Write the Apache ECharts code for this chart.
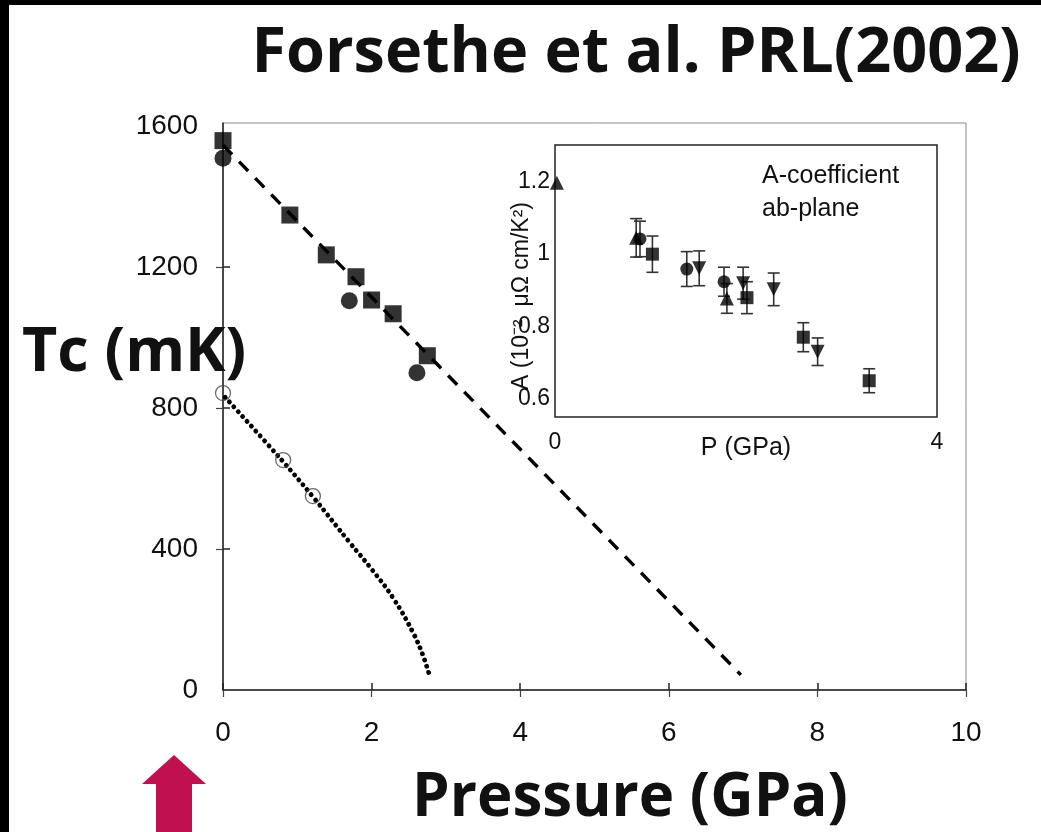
<!DOCTYPE html>
<html>
<head>
<meta charset="utf-8">
<script src="https://cdn.jsdelivr.net/npm/echarts@6/dist/echarts.min.js"></script>
<style>
html,body{margin:0;padding:0;background:#fff;}
#chart{width:1041px;height:832px;}
</style>
</head>
<body>
<div id="chart"></div>
<script>
// ---------- Main panel data: Tc (mK) vs Pressure (GPa) ----------
const mainXTicks = [0, 2, 4, 6, 8, 10];
const mainYTicks = [0, 400, 800, 1200, 1600];
const squaresP  = [0, 0.90, 1.39, 1.79, 2.00, 2.29, 2.75];
const squaresTc = [1558, 1347, 1234, 1172, 1106, 1067, 948];
const circlesP  = [0, 1.70, 2.61];
const circlesTc = [1508, 1104, 900];
const openP     = [0, 0.81, 1.21];
const openTc    = [842, 652, 550];
const dashP     = [0, 6.97];
const dashTc    = [1545, 43];
const dotP      = [0.03, 0.79, 1.21, 1.71, 2.01, 2.29, 2.56, 2.69, 2.77];
const dotTc     = [830, 652, 548, 417, 340, 261, 162, 99, 48];

// ---------- Inset data: A-coefficient vs P (GPa) ----------
const insetXTicks = [0, 4];
const insetYTicks = [0.6, 0.8, 1, 1.2];
const upP   = [0.02, 0.85, 1.80];
const upA   = [1.196, 1.044, 0.877];
const upErr = [0, 0.053, 0.041];
const ciP   = [0.89, 1.38, 1.77];
const ciA   = [1.041, 0.958, 0.923];
const ciErr = [0.049, 0.048, 0.040];
const dnP   = [1.51, 1.97, 2.29, 2.75];
const dnA   = [0.960, 0.919, 0.902, 0.730];
const dnErr = [0.048, 0.044, 0.045, 0.038];
const sqP   = [1.02, 2.01, 2.60, 3.29];
const sqA   = [0.999, 0.879, 0.770, 0.650];
const sqErr = [0.050, 0.044, 0.040, 0.033];

const zip = (a, b) => a.map((v, i) => [v, b[i]]);
const zip3 = (a, b, c) => a.map((v, i) => [v, b[i], c[i]]);
const errData = [].concat(zip3(upP, upA, upErr), zip3(ciP, ciA, ciErr), zip3(dnP, dnA, dnErr), zip3(sqP, sqA, sqErr)).filter(d => d[2] > 0);

const tickFont = 'Liberation Sans, Arial, sans-serif';
const bigFont = '"Open Sans", "Noto Sans", sans-serif';
const plain = v => String(v);

const chart = echarts.init(document.getElementById('chart'), null, {renderer: 'canvas'});

const option = {
  backgroundColor: '#ffffff',
  animation: false,
  grid: [
    {left: 223, top: 123, width: 743, height: 567, show: true, borderColor: '#8a8a8a', borderWidth: 1, backgroundColor: 'transparent'},
    {left: 555, top: 145, width: 382, height: 272, show: true, borderColor: '#222', borderWidth: 1.5, backgroundColor: '#fff', z: 5}
  ],
  xAxis: [
    {gridIndex: 0, type: 'value', min: 0, max: 10, position: 'bottom',
     axisLine: {show: true, onZero: false, lineStyle: {color: '#222', width: 1.5}},
     axisTick: {show: true, inside: true, length: 7, customValues: mainXTicks, lineStyle: {color: '#222', width: 1.5}},
     axisLabel: {show: true, customValues: mainXTicks, formatter: plain, margin: 29, fontFamily: tickFont, fontSize: 28, color: '#111'},
     splitLine: {show: false}},
    {gridIndex: 0, type: 'value', min: 0, max: 10, position: 'top',
     axisLine: {show: false},
     axisTick: {show: true, inside: true, length: 7, customValues: mainXTicks, lineStyle: {color: '#444', width: 1.2}},
     axisLabel: {show: false}, splitLine: {show: false}},
    {gridIndex: 1, type: 'value', min: 0, max: 4, position: 'bottom',
     axisLine: {show: false},
     axisTick: {show: false},
     axisLabel: {show: true, customValues: insetXTicks, formatter: plain, margin: 14, fontFamily: tickFont, fontSize: 23, color: '#111'},
     name: 'P (GPa)', nameLocation: 'middle', nameGap: 19, nameMoveOverlap: false,
     nameTextStyle: {fontFamily: tickFont, fontSize: 25, color: '#111'},
     splitLine: {show: false}}
  ],
  yAxis: [
    {gridIndex: 0, type: 'value', min: 0, max: 1608, position: 'left',
     axisLine: {show: true, onZero: false, lineStyle: {color: '#222', width: 1.5}},
     axisTick: {show: true, inside: true, length: 7, customValues: mainYTicks.slice(1, 4), lineStyle: {color: '#222', width: 1.5}},
     axisLabel: {show: true, customValues: mainYTicks, formatter: plain, margin: 25, fontFamily: tickFont, fontSize: 28, color: '#111'},
     splitLine: {show: false}},
    {gridIndex: 0, type: 'value', min: 0, max: 1608, position: 'right',
     axisLine: {show: false},
     axisTick: {show: true, inside: true, length: 7, customValues: mainYTicks.slice(1, 4), lineStyle: {color: '#444', width: 1.2}},
     axisLabel: {show: false}, splitLine: {show: false}},
    {gridIndex: 1, type: 'value', min: 0.55, max: 1.3, position: 'left',
     axisLine: {show: false},
     axisTick: {show: false},
     axisLabel: {show: true, customValues: insetYTicks, formatter: plain, margin: 5, fontFamily: tickFont, fontSize: 23, color: '#111'},
     splitLine: {show: false}},
    {gridIndex: 1, type: 'value', min: 0.55, max: 1.3, position: 'right',
     axisLine: {show: false},
     axisTick: {show: true, inside: true, length: 7, customValues: insetYTicks, lineStyle: {color: '#444', width: 1.2}},
     axisLabel: {show: false}, splitLine: {show: false}}
  ],
  series: [
    {type: 'line', xAxisIndex: 0, yAxisIndex: 0, data: zip(dashP, dashTc), showSymbol: false,
     lineStyle: {color: '#000', width: 3.4, type: [13, 10]}, z: 2},
    {type: 'line', xAxisIndex: 0, yAxisIndex: 0, data: zip(dotP, dotTc), showSymbol: false, smooth: 0.4,
     lineStyle: {color: '#000', width: 4.8, type: [0.1, 6.4], cap: 'round'}, z: 2},
    {type: 'scatter', xAxisIndex: 0, yAxisIndex: 0, data: zip(openP, openTc), symbol: 'circle', symbolSize: 15,
     itemStyle: {color: 'rgba(255,255,255,0)', borderColor: '#444', borderWidth: 1.3}, z: 3},
    {type: 'scatter', xAxisIndex: 0, yAxisIndex: 0, data: zip(circlesP, circlesTc), symbol: 'circle', symbolSize: 17,
     itemStyle: {color: '#000'}, z: 3},
    {type: 'scatter', xAxisIndex: 0, yAxisIndex: 0, data: zip(squaresP, squaresTc), symbol: 'rect', symbolSize: 17,
     itemStyle: {color: '#000'}, z: 4},

    {type: 'custom', xAxisIndex: 2, yAxisIndex: 2, data: errData, z: 6,
     renderItem: function (params, api) {
       const x = api.value(0), y = api.value(1), e = api.value(2);
       const top = api.coord([x, y + e]);
       const bot = api.coord([x, y - e]);
       const hw = 6;
       const st = {stroke: '#333', lineWidth: 1.6};
       return {type: 'group', children: [
         {type: 'line', shape: {x1: top[0], y1: top[1], x2: bot[0], y2: bot[1]}, style: st},
         {type: 'line', shape: {x1: top[0] - hw, y1: top[1], x2: top[0] + hw, y2: top[1]}, style: st},
         {type: 'line', shape: {x1: bot[0] - hw, y1: bot[1], x2: bot[0] + hw, y2: bot[1]}, style: st}
       ]};
     }},
    {type: 'scatter', xAxisIndex: 2, yAxisIndex: 2, data: zip(upP, upA), symbol: 'triangle', symbolSize: 14,
     itemStyle: {color: '#000'}, z: 7},
    {type: 'scatter', xAxisIndex: 2, yAxisIndex: 2, data: zip(ciP, ciA), symbol: 'circle', symbolSize: 13,
     itemStyle: {color: '#000'}, z: 7},
    {type: 'scatter', xAxisIndex: 2, yAxisIndex: 2, data: zip(dnP, dnA), symbol: 'triangle', symbolRotate: 180, symbolSize: 14,
     itemStyle: {color: '#000'}, z: 7},
    {type: 'scatter', xAxisIndex: 2, yAxisIndex: 2, data: zip(sqP, sqA), symbol: 'rect', symbolSize: 13,
     itemStyle: {color: '#000'}, z: 7}
  ],
  graphic: [
    {type: 'rect', left: 0, top: 0, shape: {width: 1041, height: 5}, style: {fill: '#000'}, z: 100},
    {type: 'rect', left: 0, top: 0, shape: {width: 9, height: 832}, style: {fill: '#000'}, z: 100},
    {type: 'text', x: 636, y: 54, z: 100,
     style: {text: 'Forsethe et al. PRL(2002)', fontFamily: bigFont, fontWeight: 'bold', fontSize: 63,
             fill: '#111', align: 'center', verticalAlign: 'middle'}},
    {type: 'text', x: 22, y: 354, z: 100,
     style: {text: 'Tc (mK)', fontFamily: bigFont, fontWeight: 'bold', fontSize: 61,
             fill: '#111', align: 'left', verticalAlign: 'middle'}},
    {type: 'text', x: 630, y: 799, z: 100,
     style: {text: 'Pressure (GPa)', fontFamily: bigFont, fontWeight: 'bold', fontSize: 60,
             fill: '#111', align: 'center', verticalAlign: 'middle'}},
    {type: 'text', x: 762, y: 193, z: 100,
     style: {text: 'A-coefficient\nab-plane', fontFamily: tickFont, fontSize: 25, lineHeight: 33,
             fill: '#111', align: 'left', verticalAlign: 'middle'}},
    {type: 'text', x: 522, y: 296, rotation: Math.PI / 2, z: 100,
     style: {text: 'A (10⁻²  μΩ cm/K²)', fontFamily: tickFont, fontSize: 23,
             fill: '#111', align: 'center', verticalAlign: 'middle'}},
    {type: 'polygon', z: 100,
     shape: {points: [[174, 755], [142, 784], [156, 784], [156, 832], [192, 832], [192, 784], [206, 784]]},
     style: {fill: '#c1104f'}}
  ]
};
chart.setOption(option);
</script>
</body>
</html>
